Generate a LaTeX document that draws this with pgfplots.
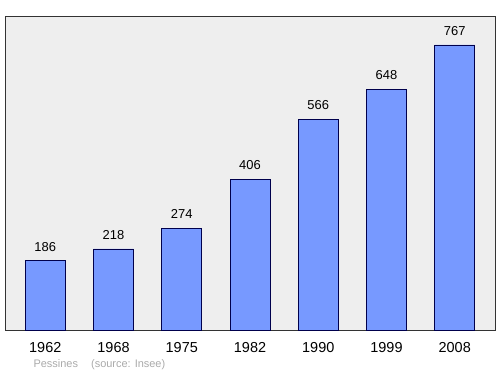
\documentclass[border=0pt]{standalone}
\usepackage{pgfplots}
\pgfplotsset{compat=1.18}
\usepackage{fontspec}
\setmainfont{Liberation Sans}
\definecolor{barblue}{RGB}{119,153,255}
\definecolor{bgray}{RGB}{238,238,238}
\definecolor{srcgray}{RGB}{170,170,170}
\begin{document}
\begin{tikzpicture}[x=1bp,y=1bp]
\useasboundingbox (0,0) rectangle (500,374);
\begin{axis}[
  at={(5bp,44bp)}, anchor=origin,
  scale only axis,
  width=490bp, height=314bp,
  xmin=-0.59, xmax=6.59, ymin=0, ymax=845,
  axis background/.style={fill=bgray},
  axis line style={draw=black!80, line width=1pt},
  xtick={0,1,2,3,4,5,6},
  xticklabels={1962,1968,1975,1982,1990,1999,2008},
  ytick=\empty,
  major tick length=0pt,
  xticklabel style={font=\fontsize{14.5}{16}\selectfont, yshift=-9bp},
  /pgf/number format/assume math mode=true,
  anchor=south west,
]
\addplot[ybar, bar width=40bp, fill=barblue, draw=black!70!blue, line width=0.8pt,
  nodes near coords, every node near coord/.append style={font=\fontsize{13}{15}\selectfont, yshift=6bp}]
  coordinates {(0,186) (1,218) (2,274) (3,406) (4,566) (5,648) (6,767)};
\end{axis}
\node[anchor=west, text=srcgray, font=\fontsize{11}{13}\selectfont] at (30,9) {Pessines\hspace{1.2em}(source: Insee)};
\end{tikzpicture}
\end{document}
